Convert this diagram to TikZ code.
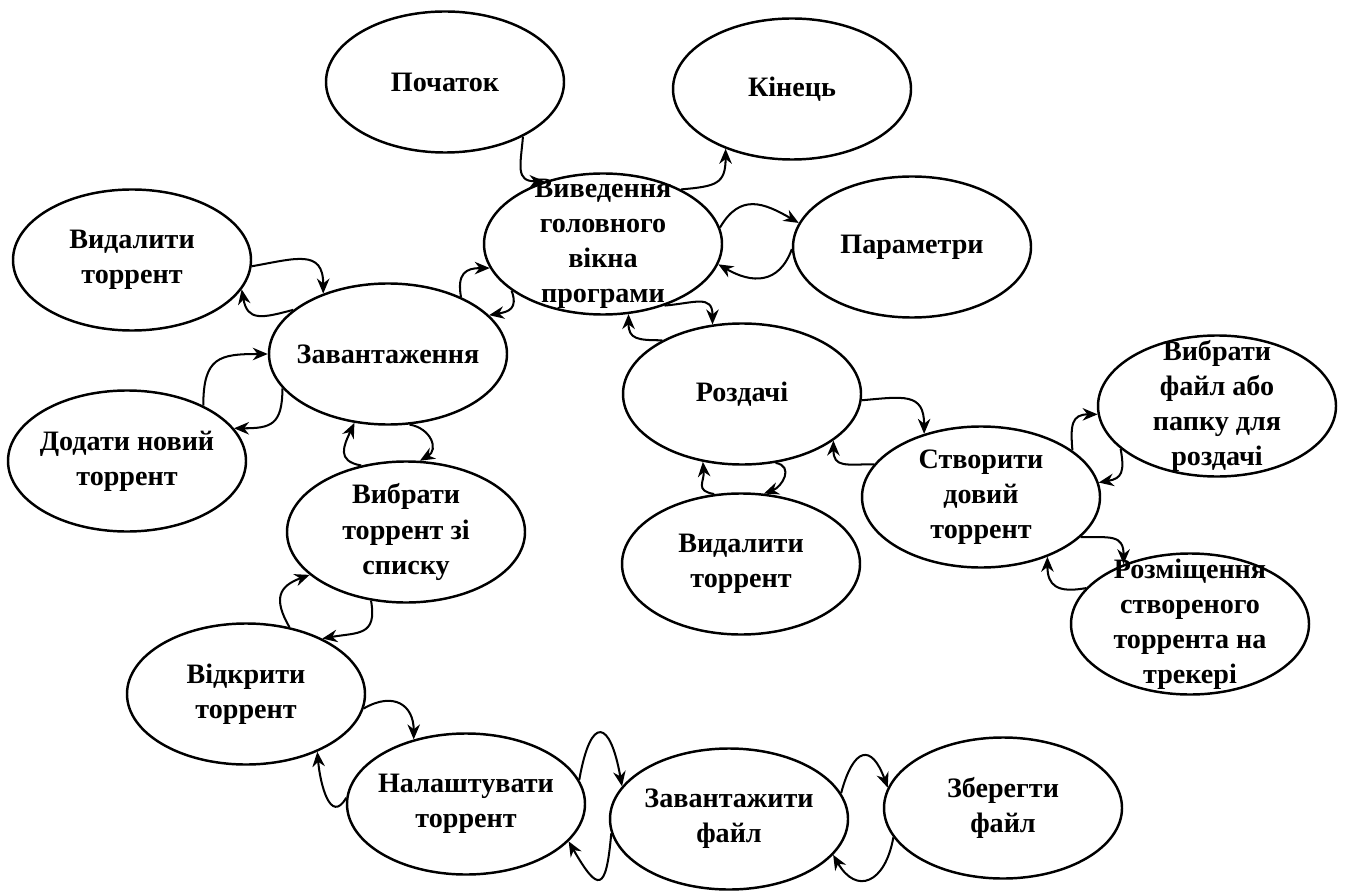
\documentclass[tikz,border=0pt]{standalone}
\usepackage{fontspec}
\setmainfont{Liberation Serif}
\usetikzlibrary{shapes.geometric,arrows.meta}

\tikzset{
  action/.style={ellipse, draw, line width=1.4pt, minimum width=4.76cm, minimum height=2.82cm,
    inner xsep=-8pt, inner ysep=-12pt, align=center, font=\bfseries\fontsize{16}{20}\selectfont},
  arr/.style={line width=1.15pt, -{Stealth[length=3mm,width=2.5mm]}},
  hook/.style={arr, looseness=1.5}
}

\begin{document}
\begin{tikzpicture}
\useasboundingbox (0,0) rectangle (26.94,17.8);

\node[action] (start) at (8.90,16.16) {Початок};
\node[action] (finish) at (15.84,16.02) {Кінець};
\node[action] (mainwin) at (12.06,12.92) {Виведення\\головного\\вікна\\програми};
\node[action] (params) at (18.24,12.86) {Параметри};
\node[action] (delleft) at (2.64,12.60) {Видалити\\торрент};
\node[action] (downloads) at (7.76,10.72) {Завантаження};
\node[action] (addnew) at (2.54,8.58) {Додати новий\\торрент};
\node[action] (choosetor) at (8.12,7.16) {Вибрати\\торрент зі\\списку};
\node[action] (seeds) at (14.84,9.92) {Роздачі};
\node[action] (choosefile) at (24.34,9.68) {Вибрати\\файл або\\папку для\\роздачі};
\node[action] (newtor) at (19.62,7.86) {Створити\\довий\\торрент};
\node[action] (delright) at (14.82,6.52) {Видалити\\торрент};
\node[action] (publish) at (23.80,5.32) {Розміщення\\створеного\\торрента на\\трекері};
\node[action] (opentor) at (4.92,3.92) {Відкрити\\торрент};
\node[action] (setup) at (9.32,1.72) {Налаштувати\\торрент};
\node[action] (loadfile) at (14.58,1.42) {Завантажити\\файл};
\node[action] (savefile) at (20.06,1.64) {Зберегти\\файл};

\draw[hook] (start.-35) to[out=-95,in=180] (mainwin.133);
\draw[hook] (mainwin.35) to[out=5,in=-90] (finish.-138);
\draw[arr,looseness=1.3] (mainwin.8) to[out=60,in=150] (params.168);
\draw[arr,looseness=1.3] (params.181) to[out=-110,in=-30] (mainwin.-10);
\draw[hook] (mainwin.-45) to[out=5,in=90] (seeds.113);
\draw[hook] (seeds.146) to[out=180,in=-90] (mainwin.-70);
\draw[hook] (downloads.38) to[out=100,in=180] (mainwin.192);
\draw[hook] (mainwin.207) to[out=-70,in=10] (downloads.21);
\draw[hook] (delleft.-3) to[out=10,in=90] (downloads.137);
\draw[hook] (downloads.155) to[out=195,in=-80] (delleft.-15);
\draw[hook] (addnew.36) to[out=90,in=180] (downloads.180);
\draw[hook] (downloads.198) to[out=-90,in=0] (addnew.17);
\draw[hook] (choosetor.124) to[out=170,in=-115] (downloads.-116);
\draw[hook] (downloads.-73) to[out=-10,in=30] (choosetor.79);
\draw[hook] (opentor.57) to[out=120,in=200] (choosetor.204);
\draw[hook] (choosetor.-117) to[out=-80,in=10] (opentor.36);
\draw[hook] (opentor.-7) to[out=30,in=90] (setup.129);
\draw[hook] (setup.177) to[out=-120,in=-85] (opentor.-39);
\draw[arr,looseness=4] (setup.12) to[out=80,in=100] (loadfile.163);
\draw[arr,looseness=3.5] (loadfile.187) to[out=-95,in=-60] (setup.-20);
\draw[arr,looseness=2.6] (loadfile.13) to[out=75,in=110] (savefile.170);
\draw[arr,looseness=1.9] (savefile.195) to[out=-100,in=-60] (loadfile.-19);
\draw[hook] (seeds.-3) to[out=5,in=90] (newtor.132);
\draw[hook] (newtor.163) to[out=180,in=-90] (seeds.-27);
\draw[hook] (newtor.27) to[out=95,in=180] (choosefile.184);
\draw[hook] (choosefile.204) to[out=-80,in=10] (newtor.7);
\draw[hook] (newtor.-22) to[out=0,in=90] (publish.138);
\draw[hook] (publish.161) to[out=190,in=-90] (newtor.-42);
\draw[hook] (delright.111) to[out=170,in=-85] (seeds.-120);
\draw[hook] (seeds.-64) to[out=-10,in=20] (delright.72);
\end{tikzpicture}
\end{document}
